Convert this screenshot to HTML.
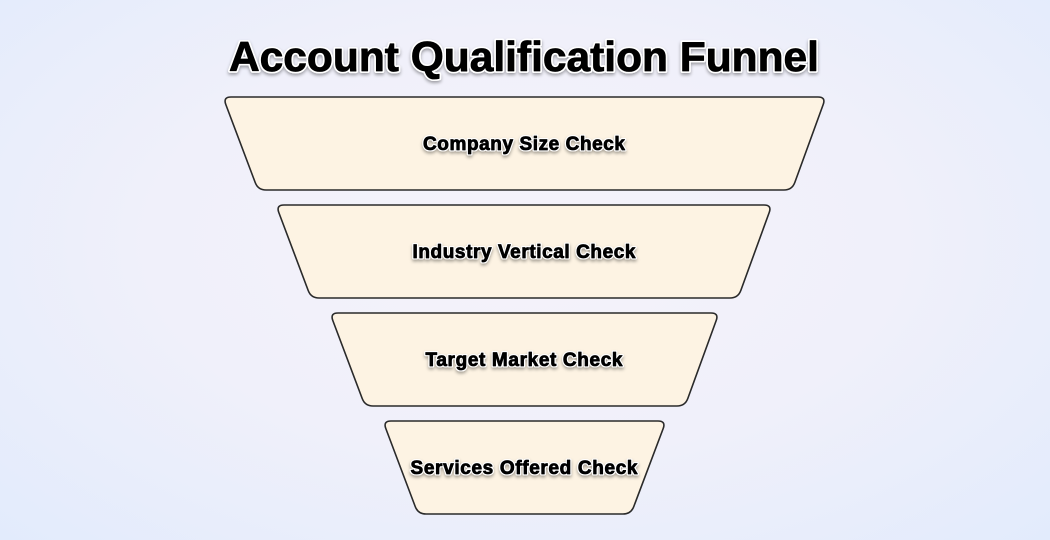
<!DOCTYPE html>
<html><head><meta charset="utf-8"><style>
html,body{margin:0;padding:0}
body{width:1050px;height:540px;overflow:hidden;background:radial-gradient(ellipse at 50% 45%,#f5f3fa 0%,#f0f0fa 50%,#e2ebfc 100%);}
svg{display:block}
text{font-family:"Liberation Sans",sans-serif;font-weight:bold;fill:#000;text-anchor:middle;paint-order:stroke;stroke:#fff;stroke-linejoin:round}
.b{fill:#000;stroke:#000;stroke-width:0.8}
</style></head><body>
<svg width="1050" height="540" viewBox="0 0 1050 540">
<defs><filter id="sh" x="-10%" y="-20%" width="120%" height="150%"><feDropShadow dx="0" dy="2" stdDeviation="1.5" flood-color="#000" flood-opacity="0.35"/></filter></defs>
<text x="524" y="71" font-size="42" stroke-width="4" filter="url(#sh)" textLength="590" lengthAdjust="spacingAndGlyphs">Account Qualification Funnel</text>
<text class="b" x="524" y="71" font-size="42" stroke-width="1.2" textLength="590" lengthAdjust="spacingAndGlyphs">Account Qualification Funnel</text>
<g fill="#fdf3e3" stroke="#2a2a2a" stroke-width="1.6">
<path d="M231,97 L818,97 Q826,97 823.2,104.5 L794.8,182.5 Q792,190 784,190 L266,190 Q258,190 255.2,182.5 L225.8,104.5 Q223,97 231,97Z"/>
<path d="M284,205 L764,205 Q772,205 769.2,212.5 L740.8,290.5 Q738,298 730,298 L319,298 Q311,298 308.2,290.5 L278.8,212.5 Q276,205 284,205Z"/>
<path d="M338,313 L711,313 Q719,313 716.2,320.5 L687.8,398.5 Q685,406 677,406 L373,406 Q365,406 362.2,398.5 L332.8,320.5 Q330,313 338,313Z"/>
<path d="M391,421 L658,421 Q666,421 663.2,428.5 L633.8,506.5 Q631,514 623,514 L426,514 Q418,514 415.2,506.5 L385.8,428.5 Q383,421 391,421Z"/>
</g>
<g font-size="19" stroke-width="3" filter="url(#sh)" lengthAdjust="spacingAndGlyphs">
<text x="524" y="150" textLength="202">Company Size Check</text>
<text x="524" y="258" textLength="223">Industry Vertical Check</text>
<text x="524" y="366" textLength="197">Target Market Check</text>
<text x="524" y="474" textLength="227">Services Offered Check</text>
</g>
<g font-size="19" class="b" lengthAdjust="spacingAndGlyphs">
<text class="b" x="524" y="150" textLength="202">Company Size Check</text>
<text class="b" x="524" y="258" textLength="223">Industry Vertical Check</text>
<text class="b" x="524" y="366" textLength="197">Target Market Check</text>
<text class="b" x="524" y="474" textLength="227">Services Offered Check</text>
</g>
</svg>
</body></html>
